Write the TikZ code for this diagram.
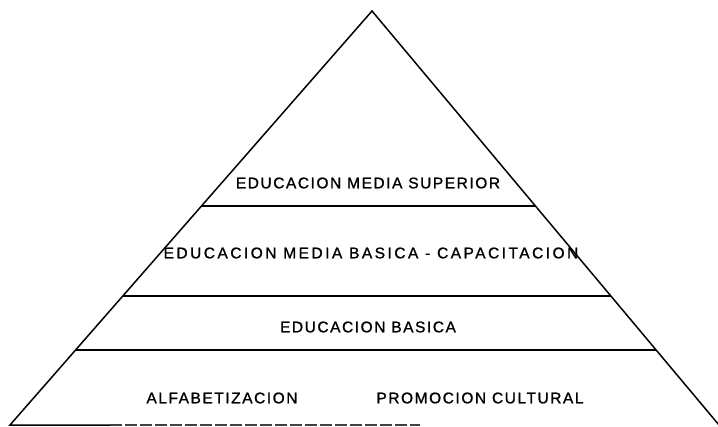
\documentclass[tikz,border=0pt]{standalone}
\usepackage{fontspec}
\setmainfont{Liberation Sans}[LetterSpace=10, FakeBold=1.2]
\usepackage{tikz}
\usetikzlibrary{calc}

\begin{document}
\begin{tikzpicture}
[
x=1pt, y=-1pt,
side/.style={draw=black, line width=1.5pt, line join=miter},
tier/.style={draw=black, line width=1.4pt},
tiertext/.style={font=\fontsize{15.5}{18}\selectfont, inner sep=0pt, node distance=258pt},
widetext/.style={tiertext, font=\fontsize{15.5}{18}\selectfont\addfontfeature{LetterSpace=16}}
]
\useasboundingbox (0,0) rectangle (718,426);

%Corners
\coordinate (top) at (372,11);
\coordinate (bl)  at (10,425);
\coordinate (br)  at (719,425);
\coordinate (b0)  at (110,425);
\coordinate (b1)  at (420,425);

%Tier ends
\coordinate (l1) at ($(top)!0.4710!(bl)$);
\coordinate (r1) at ($(top)!0.4710!(br)$);
\coordinate (l2) at ($(top)!0.6884!(bl)$);
\coordinate (r2) at ($(top)!0.6884!(br)$);
\coordinate (l3) at ($(top)!0.8188!(bl)$);
\coordinate (r3) at ($(top)!0.8188!(br)$);

%Nodes
\node[tiertext] (sup) at (368,183) {EDUCACION MEDIA SUPERIOR};
\node[widetext] (mbc) at (371,253) {EDUCACION MEDIA BASICA - CAPACITACION};
\node[tiertext] (bas) at (368,327) {EDUCACION BASICA};
\node[tiertext] (alf) at (222,398) {ALFABETIZACION};
\node[tiertext] (pro) [right of=alf] {PROMOCION CULTURAL};

%Lines
\draw[side] (br) -- (top) -- (bl) -- (b0);
\draw[side, dash pattern=on 12pt off 3pt, black!75] (b0) -- (b1);
\draw[tier] (l1) -- (r1);
\draw[tier] (l2) -- (r2);
\draw[tier] (l3) -- (r3);

\end{tikzpicture}
\end{document}
